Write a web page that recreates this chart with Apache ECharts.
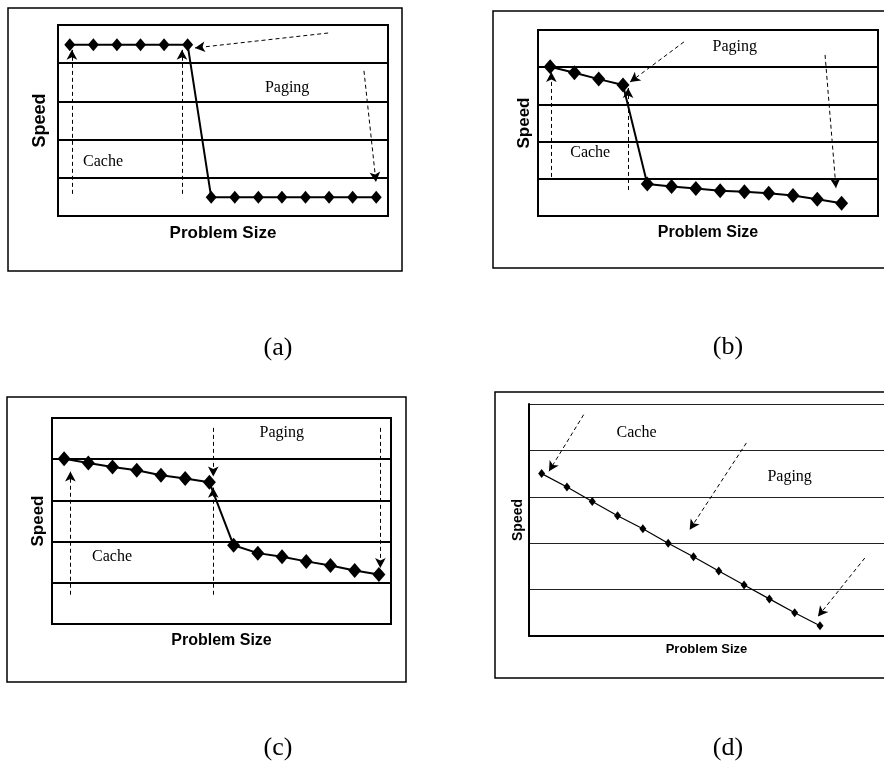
<!DOCTYPE html>
<html>
<head>
<meta charset="utf-8">
<script src="https://cdn.jsdelivr.net/npm/echarts@6/dist/echarts.min.js"></script>
<style>
    html,body{margin:0;padding:0;background:#fff;}
    #chart{width:884px;height:762px;}
</style>
</head>
<body>
<div id="chart"></div>
<script>
// speed, one value per problem size step (y axis 0..5, 5 bands)
var speedA = [4.48, 4.48, 4.48, 4.48, 4.48, 4.48, 0.49, 0.49, 0.49, 0.49, 0.49, 0.49, 0.49, 0.49]
var speedB = [4.01, 3.85, 3.68, 3.52, 0.86, 0.79, 0.74, 0.68, 0.65, 0.61, 0.55, 0.45, 0.34]
var speedC = [4.01, 3.91, 3.81, 3.73, 3.61, 3.53, 3.44, 1.91, 1.72, 1.63, 1.52, 1.42, 1.30, 1.20]
var speedD = [3.50, 3.21, 2.90, 2.59, 2.31, 2.00, 1.71, 1.40, 1.10, 0.80, 0.50, 0.22]

// dashed arrows [x1, y1, x2, y2] in data units, head at the second point
var arrowsA = [[10.96, 4.79, 5.31, 4.40], [0.09, 0.58, 0.09, 4.35], [4.76, 0.58, 4.76, 4.35], [12.48, 3.80, 12.99, 0.89]]
var arrowsB = [[5.51, 4.68, 3.29, 3.60], [0.05, 1.05, 0.05, 3.87], [3.21, 0.70, 3.21, 3.44], [11.32, 4.33, 11.77, 0.75]]
var arrowsC = [[0.26, 0.71, 0.26, 3.70], [6.16, 4.76, 6.16, 3.58], [6.16, 0.71, 6.16, 3.31], [13.06, 4.76, 13.06, 1.36]]
var arrowsD = [[1.66, 4.77, 0.29, 3.55], [8.09, 4.16, 5.85, 2.29], [12.77, 1.68, 10.92, 0.42]]

// text notes [label, x, y]
var notesA = [['Paging', 9.22, 3.35], ['Cache', 1.41, 1.41]]
var notesB = [['Paging', 7.60, 4.54], ['Cache', 1.65, 1.69]]
var notesC = [['Paging', 8.99, 4.64], ['Cache', 1.98, 1.64]]
var notesD = [['Cache', 3.75, 4.38], ['Paging', 9.80, 3.43]]

var captions = ['(a)', '(b)', '(c)', '(d)']

var sans = 'Liberation Sans, Arial, sans-serif'
var serif = 'Liberation Serif, Times New Roman, serif'

// panel layout: plot area, outer frame, caption spot, styles
var panels = [
    {grid:{left:58, top:25, width:330, height:191}, xMax:13.5, frame:[8, 8, 394, 263], cap:[278, 348], box:true,
     speed:speedA, arrows:arrowsA, notes:notesA, lw:2, sym:[11, 13], gridW:1.8, nameSize:17, yGap:9, xGap:9},
    {grid:{left:538, top:30, width:340, height:186}, xMax:13.5, frame:[493, 11, 420, 257], cap:[728, 347], box:true,
     speed:speedB, arrows:arrowsB, notes:notesB, lw:2, sym:[13, 15], gridW:1.8, nameSize:16, yGap:5, xGap:9},
    {grid:{left:52, top:418, width:339, height:206}, xMax:13.5, frame:[7, 397, 399, 285], cap:[278, 748], box:true,
     speed:speedC, arrows:arrowsC, notes:notesC, lw:2, sym:[13, 15], gridW:1.8, nameSize:16, yGap:5, xGap:9},
    // (d) is cut by the page edge: no right border, plot runs to the edge
    {grid:{left:529, top:404, width:355, height:232}, xMax:13.53, frame:[495, 392, 420, 286], cap:[728, 748], box:false,
     speed:speedD, arrows:arrowsD, notes:notesD, lw:1.2, sym:[7, 9], gridW:1.2, nameSize:13, yGap:4, xGap:7}
]

var grids = [], xAxes = [], yAxes = [], series = [], graphics = []

panels.forEach(function(p, i){
    grids.push(Object.assign({show:p.box, borderColor:'#000', borderWidth:2, backgroundColor:'transparent'}, p.grid))
    xAxes.push({
        type:'value', gridIndex:i, min:-0.5, max:p.xMax,
        name:'Problem Size', nameLocation:'middle', nameGap:p.xGap,
        nameTextStyle:{fontFamily:sans, fontWeight:'bold', fontSize:p.nameSize, color:'#000'},
        axisLine:{show:!p.box, onZero:false, lineStyle:{color:'#000', width:2}},
        axisTick:{show:false}, axisLabel:{show:false}, splitLine:{show:false}
    })
    yAxes.push({
        type:'value', gridIndex:i, min:0, max:5, interval:1,
        name:'Speed', nameLocation:'middle', nameRotate:90, nameGap:p.yGap,
        nameTextStyle:{fontFamily:sans, fontWeight:'bold', fontSize:i == 3 ? 14 : p.nameSize + 1, color:'#000'},
        axisLine:{show:!p.box, onZero:false, lineStyle:{color:'#000', width:2}},
        axisTick:{show:false}, axisLabel:{show:false},
        splitLine:{show:true, lineStyle:{color:p.box ? '#000' : '#222', width:p.gridW}}
    })
    series.push({
        type:'line', xAxisIndex:i, yAxisIndex:i,
        data:p.speed.map(function(v, k){ return [k, v] }),
        symbol:'diamond', symbolSize:p.sym, showSymbol:true,
        lineStyle:{color:'#000', width:p.lw},
        itemStyle:{color:'#000'},
        silent:true,
        markLine:{
            silent:true, symbol:['none', 'arrow'], symbolSize:[8, 10],
            label:{show:false},
            lineStyle:{color:'#000', width:1, type:[4, 3]},
            emphasis:{disabled:true},
            data:p.arrows.map(function(a){
                return [{coord:[a[0], a[1]]}, {coord:[a[2], a[3]]}]
            })
        },
        markPoint:{
            silent:true, symbol:'circle', symbolSize:1,
            itemStyle:{color:'rgba(0,0,0,0)'},
            label:{show:true, position:'inside', formatter:'{b}', color:'#000', fontFamily:serif, fontSize:16},
            data:p.notes.map(function(n){
                return {name:n[0], coord:[n[1], n[2]]}
            })
        }
    })
    // outer frame round each panel
    graphics.push({
        type:'rect', silent:true,
        shape:{x:p.frame[0], y:p.frame[1], width:p.frame[2], height:p.frame[3]},
        style:{fill:'none', stroke:'#000', lineWidth:1.5}
    })
    graphics.push({
        type:'text', silent:true, x:p.cap[0], y:p.cap[1],
        style:{text:captions[i], fill:'#000', font:'26px ' + serif, textAlign:'center', textVerticalAlign:'middle'}
    })
})

var myChart = echarts.init(document.getElementById('chart'))
myChart.setOption({
    animation:false,
    backgroundColor:'#fff',
    grid:grids,
    xAxis:xAxes,
    yAxis:yAxes,
    series:series,
    graphic:graphics
})
</script>
</body>
</html>
